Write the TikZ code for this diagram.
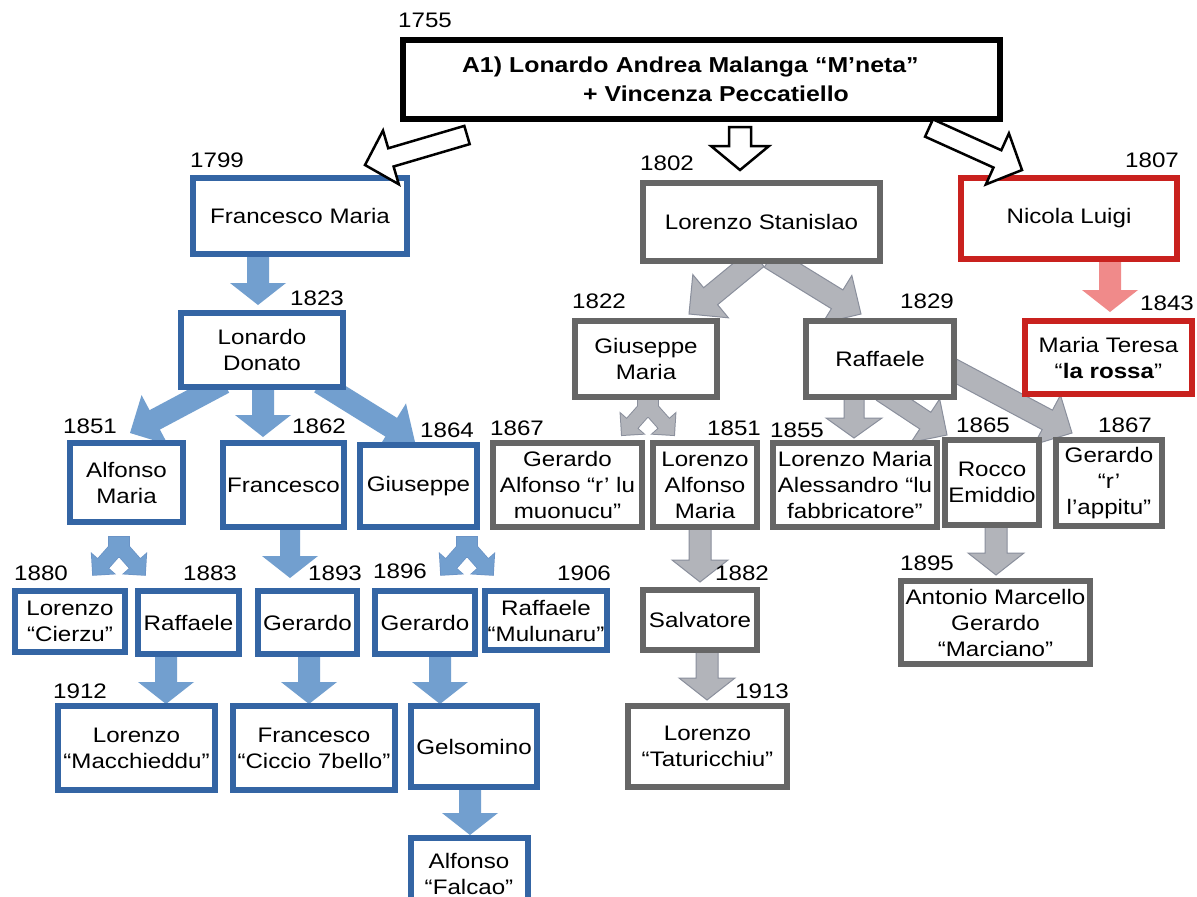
\documentclass[tikz,border=0pt]{standalone}
\usepackage{fontspec}
\setmainfont{Liberation Sans}[FakeStretch=1.15]
\usetikzlibrary{calc}
\definecolor{bbord}{HTML}{3465A4}
\definecolor{bfill}{HTML}{729FCF}
\definecolor{bline}{HTML}{6A93C6}
\definecolor{gbord}{HTML}{666666}
\definecolor{gfill}{HTML}{B2B4BA}
\definecolor{gline}{HTML}{8A8F9C}
\definecolor{rbord}{HTML}{C9211E}
\definecolor{rfill}{HTML}{F08A8A}
\newcommand\blockarrow[6]{%
  \coordinate (bneck) at ($(#3)!#6!(#2)$);
  \path[#1] ($(#2)!#4!90:(#3)$) -- ($(bneck)!#4!90:(#3)$) -- ($(bneck)!#5!90:(#3)$) -- (#3)
    -- ($(bneck)!#5!-90:(#3)$) -- ($(bneck)!#4!-90:(#3)$) -- ($(#2)!#4!-90:(#3)$) -- cycle;}
\newcommand\forkarrow[3]{%
  \path[#1] (#2-10,#3) rectangle (#2+10,#3+20);
  \coordinate (fka) at (#2-3,#3+12); \coordinate (fkb) at (#2-26,#3+38);
  \blockarrow{#1}{fka}{fkb}{7pt}{15pt}{15pt}
  \coordinate (fkc) at (#2+3,#3+12); \coordinate (fkd) at (#2+26,#3+38);
  \blockarrow{#1}{fkc}{fkd}{7pt}{15pt}{15pt}}
\tikzset{
  boxbase/.style={draw, line width=6pt, fill=white, align=center, inner sep=0pt,
    font=\fontsize{21}{26}\selectfont},
  boxblack/.style={boxbase, draw=black},
  boxblue/.style={boxbase, draw=bbord},
  boxgray/.style={boxbase, draw=gbord},
  boxred/.style={boxbase, draw=rbord},
  yearlbl/.style={anchor=base west, inner sep=0pt, font=\fontsize{21}{26}\selectfont},
  whitearrow/.style={fill=white, draw=black, line width=2.5pt, line join=miter},
  bluearrow/.style={fill=bfill},
  blueline/.style={draw=bline, line width=1.5pt},
  grayarrow/.style={fill=gfill, draw=gline, line width=1pt},
  grayline/.style={draw=gline, line width=2pt},
  grayfill/.style={fill=gfill},
  redarrow/.style={fill=rfill}
}
\begin{document}
\begin{tikzpicture}[x=1pt,y=-1pt]
\useasboundingbox[fill=white] (0,0) rectangle (1197,897);

% ---------- coloured block arrows (under the boxes) ----------
\coordinate (b1s) at (258,255); \coordinate (b1e) at (258,305);
\blockarrow{bluearrow}{b1s}{b1e}{11pt}{28pt}{22pt}
\coordinate (b2s) at (224,383); \coordinate (b2e) at (130,433);
\blockarrow{bluearrow}{b2s}{b2e}{11pt}{28pt}{28pt}
\coordinate (b3s) at (263,385); \coordinate (b3e) at (263,437);
\blockarrow{bluearrow}{b3s}{b3e}{11pt}{28pt}{22pt}
\coordinate (b4s) at (320,383); \coordinate (b4e) at (415,442);
\blockarrow{bluearrow}{b4s}{b4e}{11pt}{28pt}{28pt}
\forkarrow{blueline}{119}{537}
\forkarrow{bluearrow}{119}{537}
\coordinate (b6s) at (290,530); \coordinate (b6e) at (290,578);
\blockarrow{bluearrow}{b6s}{b6e}{10pt}{28pt}{22pt}
\forkarrow{blueline}{467}{537}
\forkarrow{bluearrow}{467}{537}
\coordinate (b8s) at (166,650); \coordinate (b8e) at (166,704);
\blockarrow{bluearrow}{b8s}{b8e}{11pt}{28pt}{22pt}
\coordinate (b9s) at (309,650); \coordinate (b9e) at (309,704);
\blockarrow{bluearrow}{b9s}{b9e}{11pt}{28pt}{22pt}
\coordinate (b10s) at (440,650); \coordinate (b10e) at (440,704);
\blockarrow{bluearrow}{b10s}{b10e}{11pt}{28pt}{22pt}
\coordinate (b11s) at (470,785); \coordinate (b11e) at (470,835);
\blockarrow{bluearrow}{b11s}{b11e}{11pt}{28pt}{22pt}

\coordinate (g1s) at (757,258); \coordinate (g1e) at (689,314);
\blockarrow{grayarrow}{g1s}{g1e}{11pt}{28pt}{28pt}
\coordinate (g2s) at (770,258); \coordinate (g2e) at (861,314);
\blockarrow{grayarrow}{g2s}{g2e}{11pt}{28pt}{28pt}
\forkarrow{grayline}{648}{397}
\forkarrow{grayfill}{648}{397}
\coordinate (g4s) at (854,395); \coordinate (g4e) at (854,438);
\blockarrow{grayarrow}{g4s}{g4e}{10pt}{28pt}{20pt}
\coordinate (g5s) at (882,392); \coordinate (g5e) at (947,435);
\blockarrow{grayarrow}{g5s}{g5e}{10pt}{26pt}{26pt}
\coordinate (g6s) at (948,367); \coordinate (g6e) at (1072,433);
\blockarrow{grayarrow}{g6s}{g6e}{11pt}{28pt}{28pt}
\coordinate (g7s) at (700,527); \coordinate (g7e) at (700,582);
\blockarrow{grayarrow}{g7s}{g7e}{11pt}{28pt}{22pt}
\coordinate (g8s) at (707,648); \coordinate (g8e) at (707,700);
\blockarrow{grayarrow}{g8s}{g8e}{11pt}{28pt}{22pt}
\coordinate (g9s) at (996,524); \coordinate (g9e) at (996,575);
\blockarrow{grayarrow}{g9s}{g9e}{11pt}{28pt}{22pt}

\coordinate (r1s) at (1110,258); \coordinate (r1e) at (1110,312);
\blockarrow{redarrow}{r1s}{r1e}{11pt}{28pt}{22pt}

% ---------- boxes ----------
\node[boxblack, minimum width=597pt, minimum height=79pt, text width=479pt, align=left,
  font=\fontsize{21.6}{29}\selectfont\bfseries] (top) at (701.5,79.5)
  {A1) Lonardo Andrea Malanga “M’neta”\\\hspace*{121pt}+ Vincenza Peccatiello};

\node[boxblue, minimum width=214pt, minimum height=76pt] (fm) at (300,216) {Francesco Maria};
\node[boxgray, minimum width=237pt, minimum height=78pt] (ls) at (761.5,222) {Lorenzo Stanislao};
\node[boxred, minimum width=216pt, minimum height=81pt] (nl) at (1069,218.5) {Nicola Luigi};

\node[boxblue, minimum width=162pt, minimum height=74pt] (ld) at (262,350) {Lonardo\\Donato};
\node[boxblue, minimum width=113pt, minimum height=79pt] (am) at (126.5,482.5) {Alfonso\\Maria};
\node[boxblue, minimum width=121pt, minimum height=84pt] (fr) at (283.5,485) {Francesco};
\node[boxblue, minimum width=117pt, minimum height=82pt] (gi) at (418.5,486) {Giuseppe};
\node[boxblue, minimum width=110pt, minimum height=61pt] (lc) at (70,621.5) {Lorenzo\\“Cierzu”};
\node[boxblue, minimum width=101pt, minimum height=63pt] (ra) at (188.5,622.5) {Raffaele};
\node[boxblue, minimum width=99pt, minimum height=63pt] (ga1) at (307.5,622.5) {Gerardo};
\node[boxblue, minimum width=100pt, minimum height=63pt] (ga2) at (425,622.5) {Gerardo};
\node[boxblue, minimum width=122pt, minimum height=59pt] (rm) at (546,620.5) {Raffaele\\“Mulunaru”};
\node[boxblue, minimum width=157pt, minimum height=84pt] (lm) at (136.5,748) {Lorenzo\\“Macchieddu”};
\node[boxblue, minimum width=162pt, minimum height=84pt] (fc) at (314,748) {Francesco\\“Ciccio 7bello”};
\node[boxblue, minimum width=126pt, minimum height=81pt] (ge) at (474,746.5) {Gelsomino};
\node[boxblue, minimum width=117pt, minimum height=72pt] (af) at (469,874) {Alfonso\\“Falcao”};

\node[boxgray, minimum width=142pt, minimum height=76pt] (gm) at (646,359) {Giuseppe\\Maria};
\node[boxgray, minimum width=148pt, minimum height=76pt] (rf) at (880,359) {Raffaele};
\node[boxgray, minimum width=149pt, minimum height=84pt] (gal) at (567.5,485) {Gerardo\\Alfonso “r’ lu\\muonucu”};
\node[boxgray, minimum width=104pt, minimum height=84pt] (la) at (705,485) {Lorenzo\\Alfonso\\Maria};
\node[boxgray, minimum width=164pt, minimum height=84pt] (lma) at (855,485) {Lorenzo Maria\\Alessandro “lu\\fabbricatore”};
\node[boxgray, minimum width=94pt, minimum height=85pt] (re) at (992,482.5) {Rocco\\Emiddio};
\node[boxgray, minimum width=106pt, minimum height=86pt] (gra) at (1109,483) {Gerardo\\“r’\\l’appitu”};
\node[boxgray, minimum width=114pt, minimum height=60pt] (sa) at (700,620) {Salvatore};
\node[boxgray, minimum width=159pt, minimum height=81pt] (lt) at (707.5,746.5) {Lorenzo\\“Taturicchiu”};
\node[boxgray, minimum width=189pt, minimum height=83pt] (amg) at (995.5,622.5) {Antonio Marcello\\Gerardo\\“Marciano”};

\node[boxred, minimum width=167pt, minimum height=73pt] (mt) at (1108.5,357.5) {Maria Teresa\\“\textbf{la rossa}”};

% ---------- white block arrows (over the boxes) ----------
\coordinate (w1s) at (467,135); \coordinate (w1e) at (365,165);
\blockarrow{whitearrow}{w1s}{w1e}{9.5pt}{28pt}{27pt}
\coordinate (w2s) at (740,127); \coordinate (w2e) at (740,170);
\blockarrow{whitearrow}{w2s}{w2e}{11pt}{29pt}{24pt}
\coordinate (w3s) at (929,128); \coordinate (w3e) at (1022,170);
\blockarrow{whitearrow}{w3s}{w3e}{9.5pt}{28pt}{27pt}

% ---------- years ----------
\node[yearlbl] (y1755) at (398,27) {1755};
\node[yearlbl] (y1799) at (190,167) {1799};
\node[yearlbl] (y1802) at (640,170) {1802};
\node[yearlbl] (y1807) at (1125,167) {1807};
\node[yearlbl] (y1823) at (290,305) {1823};
\node[yearlbl] (y1822) at (572,308) {1822};
\node[yearlbl] (y1829) at (900,308) {1829};
\node[yearlbl] (y1843) at (1140,310) {1843};
\node[yearlbl] (y1851a) at (63,433) {1851};
\node[yearlbl] (y1862) at (292,433) {1862};
\node[yearlbl] (y1864) at (420,437) {1864};
\node[yearlbl] (y1867a) at (490,435) {1867};
\node[yearlbl] (y1851b) at (707,435) {1851};
\node[yearlbl] (y1855) at (770,437) {1855};
\node[yearlbl] (y1865) at (956,432) {1865};
\node[yearlbl] (y1867b) at (1098,432) {1867};
\node[yearlbl] (y1880) at (14,580) {1880};
\node[yearlbl] (y1883) at (183,580) {1883};
\node[yearlbl] (y1893) at (308,580) {1893};
\node[yearlbl] (y1896) at (373,578) {1896};
\node[yearlbl] (y1906) at (557,580) {1906};
\node[yearlbl] (y1882) at (715,580) {1882};
\node[yearlbl] (y1895) at (900,570) {1895};
\node[yearlbl] (y1912) at (53,698) {1912};
\node[yearlbl] (y1913) at (735,698) {1913};
\end{tikzpicture}
\end{document}
